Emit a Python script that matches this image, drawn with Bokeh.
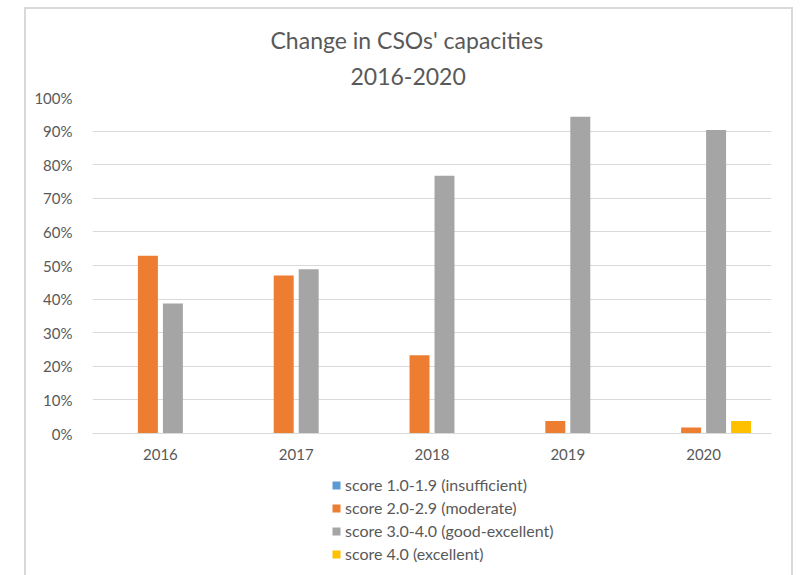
from bokeh.plotting import figure
from bokeh.layouts import column
from bokeh.models import (FactorRange, NumeralTickFormatter, Legend, LegendItem,
                          Title, FixedTicker)
from bokeh.transform import dodge
from bokeh.embed import file_html
from bokeh.resources import INLINE

years = ["2016", "2017", "2018", "2019", "2020"]
series_names = ["score 1.0-1.9 (insufficient)", "score 2.0-2.9 (moderate)",
                "score 3.0-4.0 (good-excellent)", "score 4.0 (excellent)"]
insufficient = [0.0, 0.0, 0.0, 0.0, 0.0]
moderate = [0.529, 0.470, 0.233, 0.037, 0.018]
good_excellent = [0.387, 0.489, 0.767, 0.943, 0.903]
excellent = [0.0, 0.0, 0.0, 0.0, 0.037]
colors = ["#5B9BD5", "#ED7D31", "#A5A5A5", "#FFC000"]
y_ticks = [0, 0.1, 0.2, 0.3, 0.4, 0.5, 0.6, 0.7, 0.8, 0.9, 1.0]

FONT = "Lato"
TXT = "#595959"

p = figure(width=765, height=456, x_range=FactorRange(*years), y_range=(0, 1.0),
           output_backend="svg", toolbar_location=None,
           min_border_left=66, min_border_right=20, min_border_top=88,
           min_border_bottom=32)
p.outline_line_color = None
p.background_fill_color = "white"
p.border_fill_color = "white"

data = dict(year=years, a=insufficient, b=moderate, c=good_excellent, d=excellent)
offsets = [-0.276, -0.092, 0.092, 0.276]
keys = ["a", "b", "c", "d"]
for k, off, col in zip(keys, offsets, colors):
    p.vbar(x=dodge("year", off, range=p.x_range), top=k, width=0.147,
           source=data, fill_color=col, line_color=None)

# axes
p.yaxis.ticker = FixedTicker(ticks=y_ticks)
p.yaxis.formatter = NumeralTickFormatter(format="0%")
p.yaxis.axis_line_color = None
p.yaxis.major_tick_line_color = None
p.yaxis.minor_tick_line_color = None
p.yaxis.major_label_standoff = 14
p.xaxis.axis_line_color = "#D9D9D9"
p.xaxis.axis_line_width = 1
p.xaxis.major_tick_line_color = None
p.xaxis.minor_tick_line_color = None
p.xaxis.major_label_standoff = 9
for ax in (p.xaxis[0], p.yaxis[0]):
    ax.major_label_text_font = FONT
    ax.major_label_text_font_size = "15px"
    ax.major_label_text_color = TXT

p.xgrid.grid_line_color = None
p.ygrid.grid_line_color = "#D9D9D9"
p.ygrid.grid_line_width = 1

# two-line title
p.add_layout(Title(text="2016-2020", align="left", offset=258, standoff=26,
                   text_font=FONT, text_font_size="23px", text_font_style="normal",
                   text_color=TXT), "above")
p.add_layout(Title(text="Change in CSOs' capacities", align="left", offset=178, standoff=-3,
                   text_font=FONT, text_font_size="23px", text_font_style="normal",
                   text_color=TXT), "above")

# legend strip below the chart (key swatches only; NaN placeholders draw no marks)
nan = float("nan")
p_leg = figure(width=765, height=110, x_range=(0, 1), y_range=(0, 1),
               x_axis_type=None, y_axis_type=None, output_backend="svg",
               toolbar_location=None, min_border=0)
p_leg.outline_line_color = None
p_leg.border_fill_color = "white"
swatches = [p_leg.vbar(x=[nan], top=[nan], width=0.1, fill_color=c, line_color=None)
            for c in colors]
legend = Legend(items=[LegendItem(label=n, renderers=[r]) for n, r in zip(series_names, swatches)],
                location=(239, 12), orientation="vertical",
                glyph_width=10, glyph_height=10, label_standoff=4, spacing=4,
                label_height=19, padding=0, margin=0,
                border_line_color=None, background_fill_alpha=0,
                label_text_font=FONT, label_text_font_size="16px", label_text_color=TXT)
p_leg.add_layout(legend)

layout = column(p, p_leg, spacing=0, margin=(7, 0, 0, 24),
                styles={"border": "2px solid #D9D9D9", "border-bottom": "none",
                        "background-color": "white"})

open("out.html", "w").write(file_html(layout, INLINE))
